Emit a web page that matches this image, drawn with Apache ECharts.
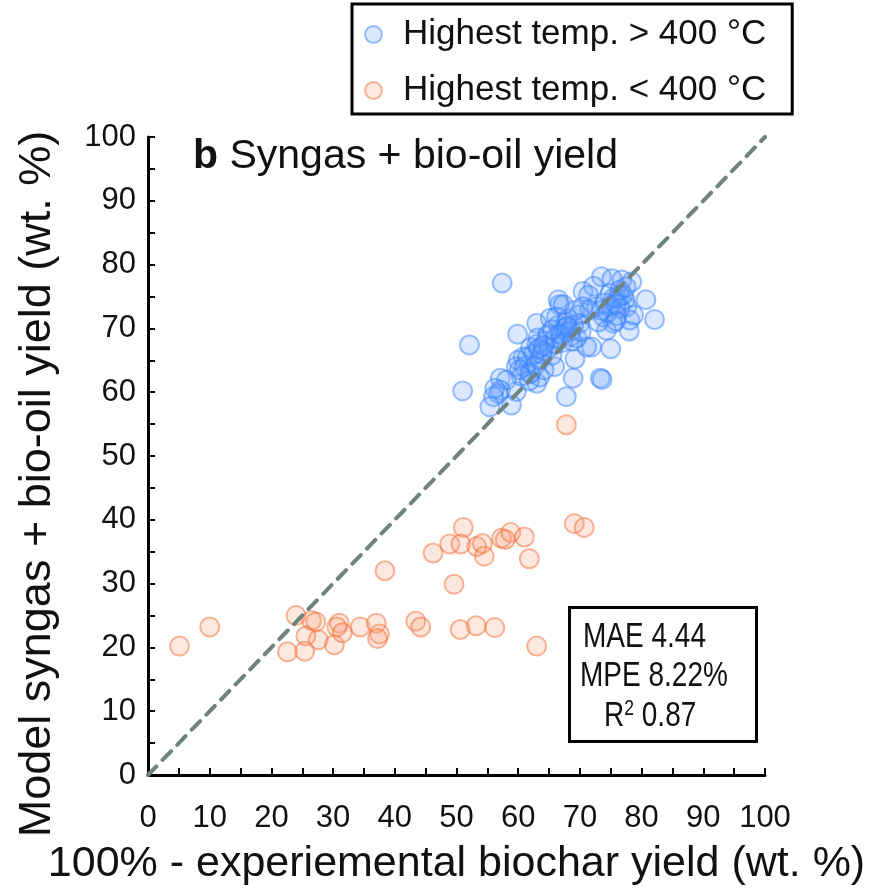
<!DOCTYPE html>
<html>
<head>
<meta charset="UTF-8">
<title>syngas bio-oil yield</title>
<script src="https://cdn.jsdelivr.net/npm/echarts@6/dist/echarts.min.js"></script>
</head>
<body style="margin:0;background:#fff;">
<div id="main" style="width:878px;height:892px;"></div>
<script type="text/javascript">
    // highest temp > 400 C  [100% - biochar yield, model syngas + bio-oil]
    var hotPoints = [
        [57.4,77.1],[52.1,67.4],[51.0,60.2],[59.9,69.1],[66.5,74.5],[66.7,73.7],[73.3,62.2],[73.6,62.0],
        [68.9,62.2],[67.8,59.3],[69.2,65.2],[71.9,67.1],[75.0,66.8],[80.7,74.5],[82.1,71.4],[78.0,69.6],
        [73.5,78.1],[75.2,77.8],[76.8,77.6],[78.4,77.3],[70.5,75.8],[72.2,76.6],[71.4,75.2],[57.1,62.2],
        [58.1,61.9],[57.1,60.3],[56.8,59.8],[56.0,59.3],[55.4,57.7],[58.9,58.0],[59.7,60.1],[60.0,65.0],
        [63.0,70.8],[65.9,64.0],[63.0,61.4],[63.5,62.4],[65.2,71.6],[67.8,69.4],[70.0,70.8],[70.5,73.4],
        [69.8,72.1],[74.9,75.5],[76.5,75.0],[77.6,73.4],[78.1,71.3],[75.4,70.8],[73.8,71.8],[72.7,73.4],
        [74.3,69.7],[78.7,72.1],[76.0,74.7],[77.3,74.5],[76.5,73.1],[73.0,71.0],[71.6,72.9],[67.8,71.0],
        [67.3,73.7],[68.4,68.7],[66.7,69.2],[71.1,67.1],[60.8,65.5],[59.7,64.0],[61.9,62.9],[56.2,60.6],
        [61.0,64.0],[61.5,65.5],[62.0,63.0],[62.5,66.0],[63.0,67.5],[63.5,65.0],[64.0,66.5],[64.5,68.0],
        [65.0,67.0],[63.2,68.5],[62.8,64.2],[64.2,63.5],[65.5,65.8],[60.5,62.5],[61.8,61.8],[64.8,69.0],
        [66.0,67.5],[62.0,67.0],[60.2,63.5],[63.8,66.0],[63.3,66.8],[64.1,67.3],
        [66.5,70.5],[67.0,69.0],[67.5,70.0],[68.0,71.5],[68.5,69.5],[69.0,70.5],[69.5,68.5],[66.0,68.5],
        [67.2,67.8],[68.8,68.0],[70.2,69.5],[66.2,71.8],[69.2,72.8],[65.5,69.8],[67.9,70.3],
        [74.5,72.5],[75.0,73.5],[75.5,74.8],[76.0,72.0],[76.5,76.0],[77.0,75.2],[75.8,71.2],[74.0,74.0],
        [73.5,72.8],[77.5,76.5],[75.9,73.8]
    ];
    // highest temp < 400 C
    var coolPoints = [
        [5.1,20.2],[10.0,23.2],[24.0,25.0],[26.5,24.2],[27.2,24.0],[25.6,21.8],[27.6,21.2],[22.6,19.3],
        [25.4,19.4],[30.2,20.4],[31.0,23.8],[30.6,23.2],[31.5,22.3],[34.4,23.2],[37.0,23.8],[37.5,22.1],
        [37.2,21.4],[43.4,24.1],[44.2,23.2],[38.4,32.0],[46.2,34.8],[67.8,54.9],[51.1,38.8],[48.9,36.2],
        [50.7,36.2],[53.3,35.8],[54.2,36.3],[54.5,34.3],[57.3,37.1],[57.9,36.9],[58.8,38.0],[61.0,37.3],
        [61.8,33.9],[49.6,29.9],[69.1,39.4],[70.7,38.8],[50.6,22.8],[53.2,23.4],[56.2,23.1],[63.0,20.2]
    ];
    var parityLine = [[0, 0], [100, 100]];
    var seriesNames = ['Highest temp. > 400 °C', 'Highest temp. < 400 °C'];

    var sans = '"Liberation Sans", Arial, sans-serif';

    var myChart = echarts.init(document.getElementById('main'));

    function axisCommon() {
        return {
            type: 'value',
            min: 0,
            max: 100,
            interval: 10,
            axisLine: {lineStyle: {color: '#000', width: 3}},
            axisTick: {show: true, inside: true, length: 7, lineStyle: {color: '#000', width: 2}},
            minorTick: {show: true, splitNumber: 2, length: 7, lineStyle: {color: '#000', width: 2}},
            splitLine: {show: false},
            axisLabel: {color: '#111', fontFamily: sans, fontSize: 31},
            nameLocation: 'middle',
            nameTextStyle: {color: '#111', fontFamily: sans, fontSize: 42}
        };
    }

    var xAxis = axisCommon();
    xAxis.name = '100% - experiemental biochar yield (wt. %)';
    xAxis.nameGap = 68;
    xAxis.axisLabel.margin = 28;
    xAxis.nameTextStyle.fontSize = 43;

    var yAxis = axisCommon();
    yAxis.name = 'Model syngas + bio-oil yield (wt. %)';
    yAxis.nameGap = 88;
    yAxis.axisLabel.margin = 12;
    yAxis.nameTextStyle.fontSize = 45;
    yAxis.nameTextStyle.padding = [0, 56, 0, 0];

    myChart.setOption({
        animation: false,
        backgroundColor: '#fff',
        title: {
            text: '{b|b} Syngas + bio-oil yield',
            left: 188,
            top: 131,
            textStyle: {
                fontFamily: sans,
                fontSize: 41,
                fontWeight: 'normal',
                color: '#111',
                rich: {b: {fontFamily: sans, fontSize: 41, fontWeight: 'bold', color: '#111'}}
            }
        },
        legend: {
            left: 352,
            top: 4,
            orient: 'vertical',
            data: seriesNames,
            borderColor: '#000',
            borderWidth: 3,
            padding: [13, 26, 6, 12],
            itemGap: 21,
            itemWidth: 17,
            itemHeight: 17,
            textStyle: {fontFamily: sans, fontSize: 35, color: '#111', padding: [0, 0, 0, 16]}
        },
        grid: {left: 148, right: 113, top: 137, bottom: 117, containLabel: false, outerBoundsMode: 'none'},
        xAxis: xAxis,
        yAxis: yAxis,
        series: [
            {
                name: seriesNames[0],
                type: 'scatter',
                symbol: 'circle',
                symbolSize: 19,
                data: hotPoints,
                itemStyle: {color: 'rgba(105,160,255,0.3)', borderColor: 'rgba(45,125,255,0.6)', borderWidth: 2}
            },
            {
                name: seriesNames[1],
                type: 'scatter',
                symbol: 'circle',
                symbolSize: 19,
                data: coolPoints,
                itemStyle: {color: 'rgba(245,150,110,0.27)', borderColor: 'rgba(240,110,50,0.62)', borderWidth: 2}
            },
            {
                type: 'line',
                data: parityLine,
                symbol: 'none',
                silent: true,
                z: 5,
                lineStyle: {color: '#6f827e', width: 4, type: [12, 9], cap: 'round'}
            }
        ],
        graphic: [
            {
                type: 'rect',
                left: 568,
                top: 606,
                shape: {width: 187, height: 134},
                style: {fill: '#fff', stroke: '#000', lineWidth: 3},
                z: 10
            },
            {
                type: 'text',
                x: 583,
                y: 620,
                scaleX: 0.8,
                z: 11,
                style: {text: 'MAE 4.44', font: '35px ' + sans, fill: '#111'}
            },
            {
                type: 'text',
                x: 580,
                y: 659,
                scaleX: 0.8,
                z: 11,
                style: {text: 'MPE 8.22%', font: '35px ' + sans, fill: '#111'}
            },
            {
                type: 'text',
                x: 604,
                y: 698,
                scaleX: 0.8,
                z: 11,
                style: {
                    text: '{r|R}{s|2}{r| 0.87}',
                    rich: {
                        r: {fontFamily: sans, fontSize: 35, fill: '#111', color: '#111'},
                        s: {fontFamily: sans, fontSize: 22, fill: '#111', color: '#111', verticalAlign: 'top', padding: [0, 0, 14, 0]}
                    }
                }
            }
        ]
    });
</script>
</body>
</html>
